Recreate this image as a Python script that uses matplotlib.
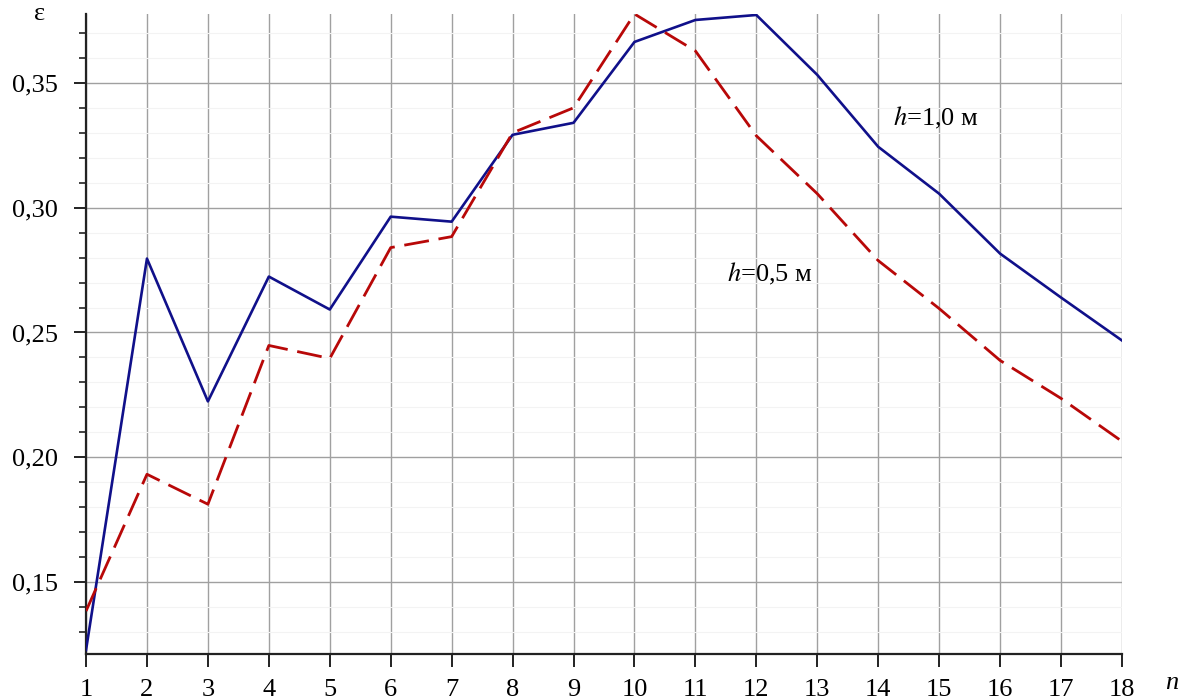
import numpy as np
import matplotlib.pyplot as plt
from matplotlib.ticker import MultipleLocator, FuncFormatter

# ===============================
# Data
# ===============================
n = list(range(1, 19))
eps_h10 = [0.1228, 0.2796, 0.2224, 0.2724, 0.2592, 0.2964, 0.2944, 0.3292, 0.3340,
           0.3664, 0.3752, 0.3772, 0.3532, 0.3244, 0.3056, 0.2816, 0.2640, 0.2468]
eps_h05 = [0.1384, 0.1932, 0.1812, 0.2448, 0.2396, 0.2840, 0.2884, 0.3300, 0.3400,
           0.3776, 0.3628, 0.3288, 0.3056, 0.2788, 0.2596, 0.2388, 0.2236, 0.2064]

plt.rcParams['font.family'] = ['Liberation Serif', 'DejaVu Serif']
plt.rcParams['mathtext.fontset'] = 'stix'

fig = plt.figure(figsize=(11.85, 6.99), dpi=100)
ax = fig.add_axes([0.0726, 0.0644, 0.8742, 0.9156])

ax.plot(n, eps_h10, color='#10108a', lw=1.9, zorder=5)
ax.plot(n, eps_h05, color='#b80808', lw=2.0, dashes=(9, 3.5), zorder=5)

ax.set_xlim(1, 18)
ax.set_ylim(0.1212, 0.3776)

ax.xaxis.set_major_locator(MultipleLocator(1))
ax.yaxis.set_major_locator(MultipleLocator(0.05))
ax.yaxis.set_minor_locator(MultipleLocator(0.01))
ax.yaxis.set_major_formatter(FuncFormatter(lambda v, p: f"{v:.2f}".replace('.', ',')))

ax.grid(which='major', color='#a0a0a0', lw=1.0)
ax.grid(which='minor', axis='y', color='#f3f3f3', lw=0.8)
ax.set_axisbelow(True)

for side in ['top', 'right']:
    ax.spines[side].set_visible(False)
for side in ['left', 'bottom']:
    ax.spines[side].set_linewidth(1.6)
    ax.spines[side].set_color('#222222')

ax.tick_params(which='major', length=9, width=1.4, labelsize=19, color='#222222')
ax.tick_params(which='minor', length=5, width=1.2, color='#222222')
ax.tick_params(axis='x', pad=9)
ax.tick_params(axis='y', pad=11)

ax.text(-0.045, 1.0, 'ε', transform=ax.transAxes, fontsize=19, ha='center', va='center')
ax.text(1.042, -0.045, 'n', transform=ax.transAxes, fontsize=19, style='italic',
        ha='left', va='center')

ax.text(14.24, 0.336, '$h$=1,0 м', fontsize=19, ha='left', va='center')
ax.text(11.52, 0.2736, '$h$=0,5 м', fontsize=19, ha='left', va='center')

fig.savefig('out.png', dpi=100)
